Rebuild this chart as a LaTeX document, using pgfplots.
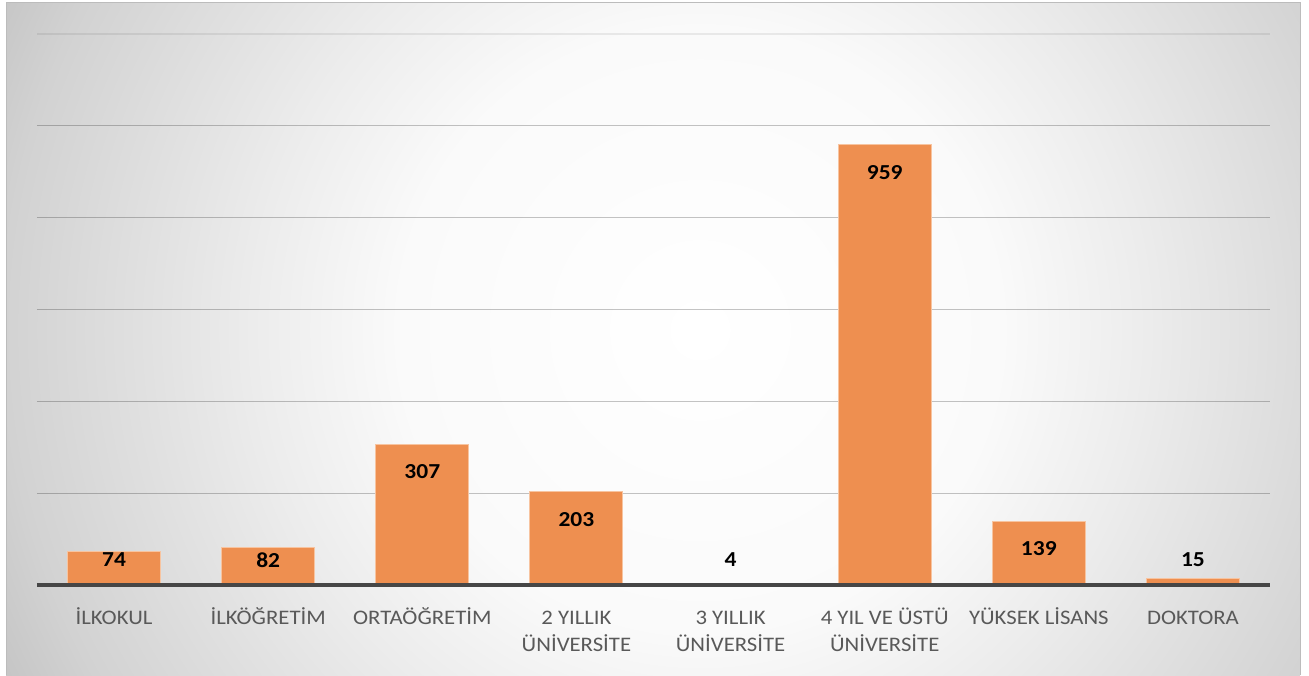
\documentclass[border=0pt]{standalone}
\usepackage{pgfplots}
\pgfplotsset{compat=1.18}
\usepackage{fontspec}
\setmainfont{Carlito}[FakeStretch=1.1]
\definecolor{barfill}{RGB}{238,143,80}
\definecolor{baredge}{RGB}{247,196,160}
\definecolor{ticktext}{RGB}{89,89,89}
\definecolor{axisline}{RGB}{70,70,70}
\definecolor{s0}{RGB}{255,255,255}
\definecolor{s1}{RGB}{250,250,250}
\definecolor{s2}{RGB}{236,236,236}
\definecolor{s3}{RGB}{210,210,210}
\definecolor{s4}{RGB}{198,198,198}
\definecolor{s5}{RGB}{190,190,190}
\definecolor{s6}{RGB}{186,186,186}
\definecolor{panelborder}{RGB}{188,188,188}
\pgfdeclareradialshading{bgshade}{\pgfpointorigin}{color(0bp)=(s0); color(225bp)=(s1); color(334.5bp)=(s2); color(520.5bp)=(s3); color(577.5bp)=(s4); color(675bp)=(s5); color(1000bp)=(s6)}
\begin{document}
\begin{tikzpicture}
\path[use as bounding box] (0pt,0pt) rectangle (981.75pt,506.25pt);
\begin{scope}
\clip (4.5pt,0pt) rectangle (975pt,504pt);
\begin{scope}[transform canvas={shift={(525pt,258.75pt)}}]
\pgfuseshading{bgshade}
\end{scope}
\end{scope}
\draw[panelborder, line width=0.75pt] (4.5pt,0pt) -- (4.5pt,504pt) -- (975pt,504pt) -- (975pt,0pt);
\begin{axis}[
  at={(27.75pt,67.5pt)}, anchor=south west,
  scale only axis, width=924.75pt, height=413.25pt,
  xmin=-0.5, xmax=7.5, ymin=0, ymax=1200,
  xtick={0,...,7},
  xticklabels={{\strut İLKOKUL},{\strut İLKÖĞRETİM},{\strut ORTAÖĞRETİM},{\strut 2 YILLIK\\ÜNİVERSİTE},{\strut 3 YILLIK\\ÜNİVERSİTE},{\strut 4 YIL VE ÜSTÜ\\ÜNİVERSİTE},{\strut YÜKSEK LİSANS},{\strut DOKTORA}},
  ytick={200,400,...,1000}, yticklabels={},
  extra y ticks={1200}, extra y tick labels={},
  extra y tick style={grid style={black, opacity=0.07, line width=1pt}},
  ymajorgrids, grid style={black, opacity=0.23, line width=1pt},
  axis line style={draw=none}, tick style={draw=none},
  xticklabel style={font=\fontsize{15.5}{20.5}\selectfont, text=ticktext, align=center, anchor=north, inner sep=0pt, yshift=-15.15pt},
  /pgf/number format/assume math mode=true,
  clip=false,
]
\addplot[ybar, bar width=69.75pt, fill=barfill, draw=baredge, line width=0.75pt,
  visualization depends on={rawy \as \rawy},
  nodes near coords,
  nodes near coords style={font=\fontsize{16}{19}\selectfont\bfseries, text=black, anchor=center, inner sep=0pt, yshift={0.75*max(-27.5,25-0.4588*\rawy)}}]
coordinates {(0,74) (1,82) (2,307) (3,203) (4,4) (5,959) (6,139) (7,15)};
\draw[axisline, line width=3pt] (rel axis cs:0,0) -- (rel axis cs:1,0);
\end{axis}
\end{tikzpicture}
\end{document}
